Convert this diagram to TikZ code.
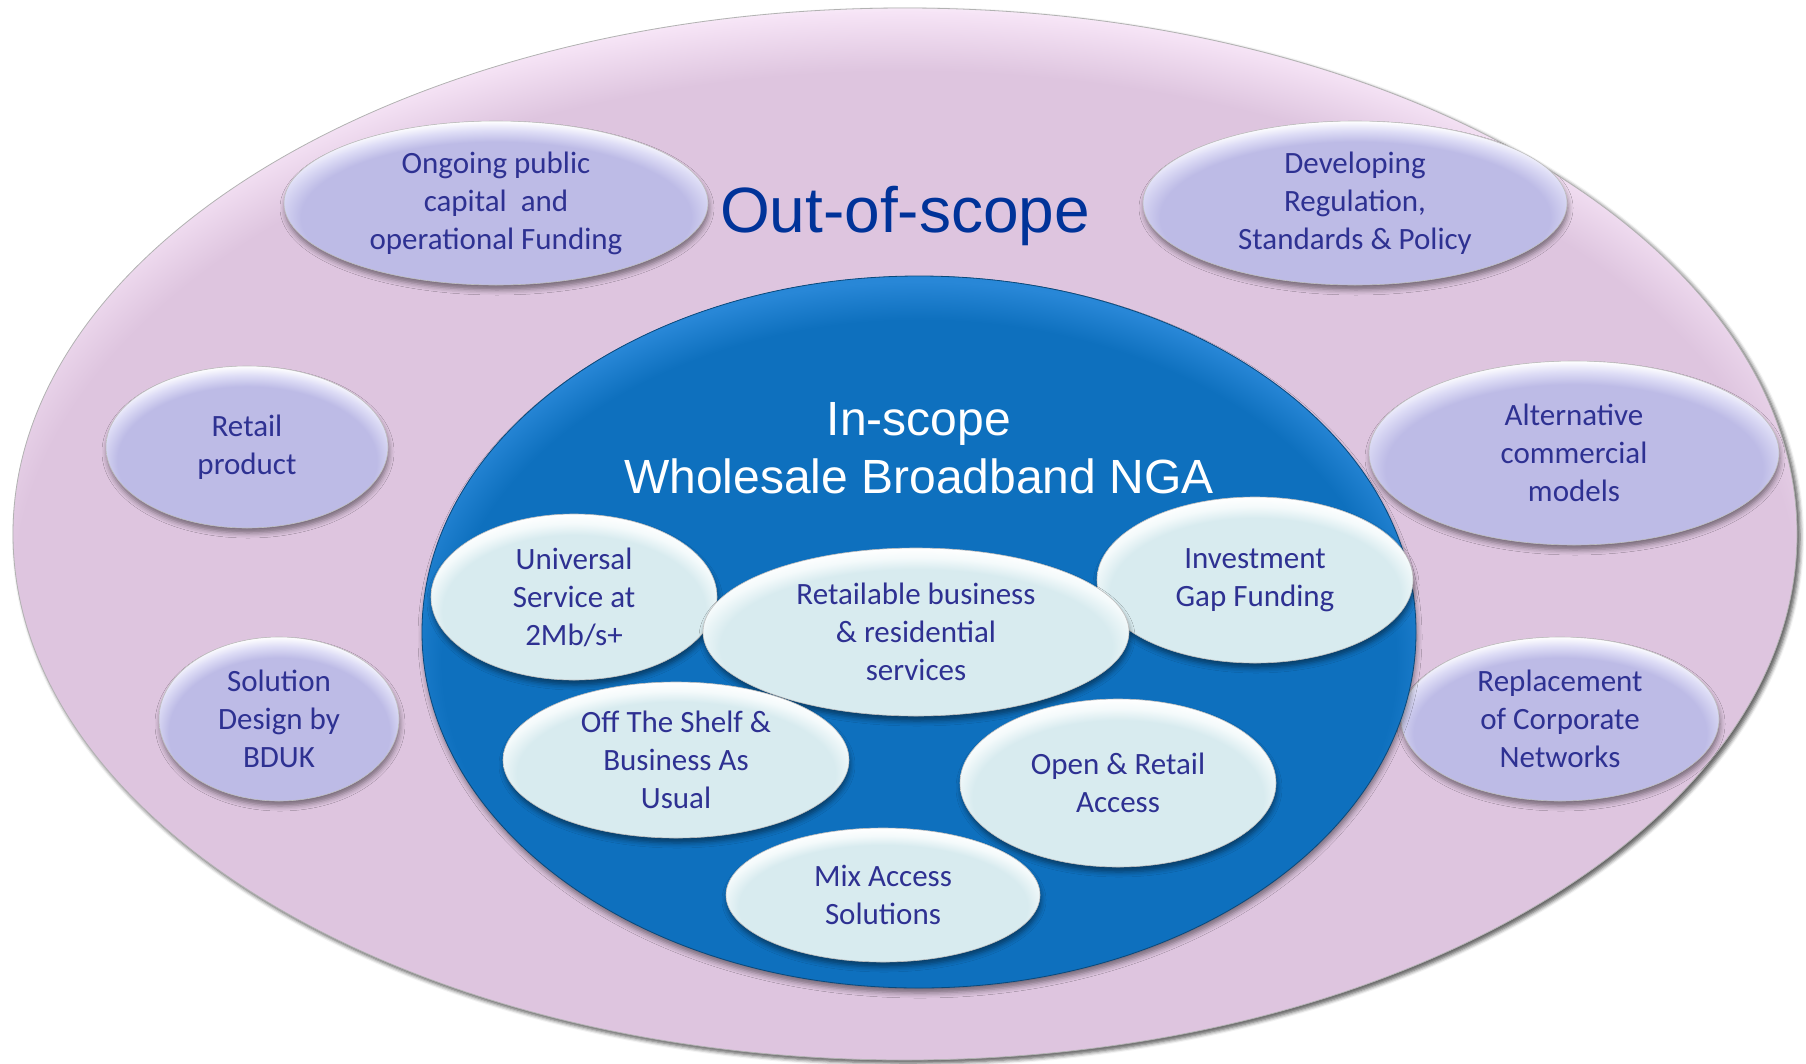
\documentclass[tikz,border=0pt]{standalone}
\usepackage{fontspec}
\setmainfont{Carlito}
\newfontfamily\arialf{Liberation Sans}
\usetikzlibrary{shapes.geometric,shadows.blur}
\definecolor{outerbase}{RGB}{222,197,223}
\definecolor{outerlight}{RGB}{246,228,246}
\definecolor{lavbase}{RGB}{189,187,230}
\definecolor{lavlight}{RGB}{222,221,246}
\definecolor{bluebase}{RGB}{14,112,190}
\definecolor{bluelight}{RGB}{40,135,215}
\definecolor{cyanbase}{RGB}{216,235,239}
\definecolor{cyanlight}{RGB}{244,250,251}
\definecolor{txtblue}{RGB}{46,49,146}
\definecolor{titleblue}{RGB}{0,51,153}
\pgfdeclareradialshading{outershade}{\pgfpoint{0bp}{-6bp}}{color(0bp)=(outerbase); color(25bp)=(outerbase); color(27.5bp)=(outerlight); color(28.5bp)=(white); color(50bp)=(white)}
\pgfdeclareradialshading{lavshade}{\pgfpoint{0bp}{-8bp}}{color(0bp)=(lavbase); color(23bp)=(lavbase); color(26bp)=(lavlight); color(28.5bp)=(white); color(50bp)=(white)}
\pgfdeclareradialshading{blueshade}{\pgfpoint{0bp}{-4bp}}{color(0bp)=(bluebase); color(24bp)=(bluebase); color(26.5bp)=(bluelight); color(50bp)=(bluelight)}
\pgfdeclareradialshading{cyanshade}{\pgfpoint{0bp}{-8bp}}{color(0bp)=(cyanbase); color(23bp)=(cyanbase); color(26bp)=(cyanlight); color(28.5bp)=(white); color(50bp)=(white)}
\tikzset{
  bubble/.style={shape=ellipse, inner sep=0pt, shade, draw=gray!50, line width=0.6pt,
    blur shadow={shadow xshift=1pt, shadow yshift=-5pt, shadow opacity=45, shadow blur radius=5pt}},
  outerell/.style={bubble, shading=outershade, draw=gray!60, line width=0.8pt,
    blur shadow={shadow xshift=3pt, shadow yshift=-3pt, shadow opacity=40, shadow blur radius=4pt}},
  blueell/.style={bubble, shading=blueshade, draw=black!35!bluebase, line width=0.8pt},
  lavell/.style={bubble, shading=lavshade},
  cyanell/.style={bubble, shading=cyanshade},
  btxt/.style={inner sep=0pt, align=center, text=txtblue, font=\fontsize{31}{38}\selectfont},
  ttl/.style={inner sep=0pt, anchor=base, font=\arialf\fontsize{48}{56}\selectfont, text=white}
}
\begin{document}
\begin{tikzpicture}[x=1pt,y=-1pt]
\useasboundingbox (0,0) rectangle (1806,1063);
% outer ellipse
\node[outerell, minimum width=1784pt, minimum height=1052pt] (outer) at (905,534) {};
\node[inner sep=0pt, anchor=base, font=\arialf\fontsize{64}{72}\selectfont, text=titleblue] (outtitle) at (905,232) {Out-of-scope};
% out-of-scope bubbles
\node[lavell, minimum width=424pt, minimum height=164pt] (n1) at (496,203) {};
\node[lavell, minimum width=424pt, minimum height=164pt] (n2) at (1355,203) {};
\node[lavell, minimum width=282pt, minimum height=162pt] (n3) at (247,447) {};
\node[lavell, minimum width=240pt, minimum height=164pt] (n4) at (279,719) {};
\node[lavell, minimum width=410pt, minimum height=184pt] (n5) at (1574,453) {};
\node[lavell, minimum width=318pt, minimum height=164pt] (n6) at (1560,719) {};
\node[btxt] (t1) at (n1.center) {Ongoing public\\capital~ and\\operational Funding};
\node[btxt] (t2) at (n2.center) {Developing\\Regulation,\\Standards \& Policy};
\node[btxt] (t3) at (n3.center) {Retail\\product};
\node[btxt] (t4) at (n4.center) {Solution\\Design by\\BDUK};
\node[btxt] (t5) at (n5.center) {Alternative\\commercial\\models};
\node[btxt] (t6) at (n6.center) {Replacement\\of Corporate\\Networks};
% in-scope ellipse
\node[blueell, minimum width=994pt, minimum height=712pt] (inner) at (919,632) {};
\node[ttl] (intitle1) at (919,435) {In-scope};
\node[ttl] (intitle2) at (919,493) {Wholesale Broadband NGA};
% in-scope bubbles
\node[cyanell, minimum width=286pt, minimum height=166pt] (a) at (574,597) {};
\node[cyanell, minimum width=316pt, minimum height=166pt] (c) at (1255,580) {};
\node[cyanell, minimum width=426pt, minimum height=168pt] (b) at (916,632) {};
\node[cyanell, minimum width=346pt, minimum height=156pt] (d) at (676,760) {};
\node[cyanell, minimum width=316pt, minimum height=168pt] (e) at (1118,783) {};
\node[cyanell, minimum width=314pt, minimum height=134pt] (f) at (883,895) {};
\node[btxt] (ta) at (a.center) {Universal\\Service at\\2Mb/s+};
\node[btxt] (tb) at (b.center) {Retailable business\\\& residential\\services};
\node[btxt] (tc) at (c.center) {Investment\\Gap Funding};
\node[btxt] (td) at (d.center) {Off The Shelf \&\\Business As\\Usual};
\node[btxt] (te) at (e.center) {Open \& Retail\\Access};
\node[btxt] (tf) at (f.center) {Mix Access\\Solutions};
\end{tikzpicture}
\end{document}
